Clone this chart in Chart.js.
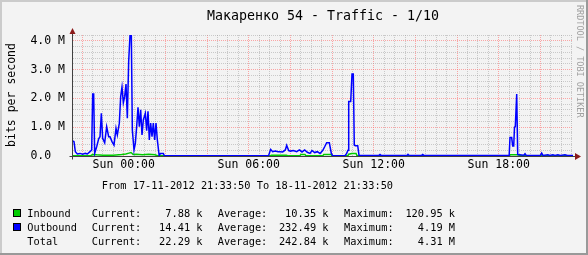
<!DOCTYPE html>
<html>
<head>
<meta charset="utf-8">
<script src="https://cdn.jsdelivr.net/npm/chart.js@4"></script>
<style>
html, body { margin: 0; padding: 0; background: #f3f3f3; }
canvas { display: block; }
</style>
</head>
<body>
<canvas id="trafficChart" width="588" height="255"></canvas>
<script>
const title = 'Макаренко 54 - Traffic - 1/10';
const unitLabel = 'bits per second';
const periodText = 'From 17-11-2012 21:33:50 To 18-11-2012 21:33:50';
const watermark = 'RRDTOOL / TOBI OETIKER';

// time in hours relative to Sun 00:00, values in Mbit/s
const startHour = -2.4361; // 21:33:50
const endHour = 21.5639;
const labelHours = [0, 6, 12, 18];
const tickLabels = ['Sun 00:00', 'Sun 06:00', 'Sun 12:00', 'Sun 18:00'];

const outHours = [-2.436, -2.388, -2.324, -2.228, -2.10, -1.972, -1.844, -1.748, -1.62, -1.54,
    -1.492, -1.444, -1.396, -1.30, -1.204, -1.14, -1.076, -1.012, -0.916, -0.82,
    -0.724, -0.66, -0.564, -0.468, -0.372, -0.308, -0.212, -0.148, -0.084, -0.02,
    0.044, 0.108, 0.172, 0.236, 0.30, 0.364, 0.412, 0.492, 0.556, 0.62,
    0.684, 0.748, 0.812, 0.876, 0.94, 1.036, 1.10, 1.164, 1.228, 1.292,
    1.356, 1.42, 1.484, 1.548, 1.612, 1.70, 1.76, 1.90, 1.95, 6.95,
    7.052, 7.148, 7.276, 7.404, 7.50, 7.628, 7.756, 7.82, 7.916, 8.0,
    8.14, 8.30, 8.43, 8.556, 8.684, 8.812, 8.94, 9.036, 9.164, 9.292,
    9.42, 9.548, 9.644, 9.74, 9.868, 9.964, 10.028, 10.62, 10.70, 10.764,
    10.798, 10.894, 10.956, 11.018, 11.066, 11.114, 11.23, 11.292, 12.25, 12.3,
    12.35, 13.6, 13.644, 13.7, 14.3, 14.35, 14.4, 18.40, 18.50, 18.54,
    18.62, 18.67, 18.718, 18.756, 18.794, 18.862, 18.91, 19.2, 19.26, 19.32,
    20.0, 20.06, 20.12, 20.36, 20.45, 20.6, 20.7, 20.84, 20.95, 21.18,
    21.3, 21.564];
const outValues = [0.52, 0.50, 0.15, 0.07, 0.09, 0.06, 0.09, 0.07, 0.15, 0.21,
    2.15, 2.15, 0.09, 0.32, 0.60, 0.67, 1.48, 0.61, 0.46, 1.02,
    0.67, 0.67, 0.50, 0.38, 0.96, 0.73, 1.14, 2.06, 2.39, 1.85,
    2.06, 2.50, 1.31, 3.28, 4.19, 4.19, 0.90, 0.21, 0.44, 1.02,
    1.69, 1.02, 1.60, 0.73, 1.25, 1.48, 0.88, 1.55, 0.56, 1.14,
    0.67, 1.14, 0.56, 1.14, 0.56, 0.01, 0.09, 0.09, 0.01, 0.01,
    0.23, 0.15, 0.17, 0.15, 0.15, 0.14, 0.21, 0.37, 0.19, 0.17,
    0.19, 0.15, 0.21, 0.14, 0.21, 0.13, 0.09, 0.19, 0.12, 0.15,
    0.09, 0.19, 0.32, 0.46, 0.46, 0.09, 0.01, 0.01, 0.09, 0.20,
    1.89, 1.89, 2.85, 2.85, 0.38, 0.36, 0.36, 0.03, 0.02, 0.05,
    0.02, 0.02, 0.06, 0.02, 0.02, 0.05, 0.02, 0.02, 0.02, 0.64,
    0.64, 0.35, 0.35, 1.00, 1.02, 2.15, 0.05, 0.03, 0.08, 0.02,
    0.02, 0.10, 0.02, 0.04, 0.02, 0.04, 0.02, 0.04, 0.02, 0.04,
    0.02, 0.02];

const inHours = [-2.436, -1.6, -1.5, -1.3, -1.0, -0.5, -0.1, 0.1, 0.25, 0.35,
    0.45, 0.6, 0.9, 1.2, 1.5, 1.65, 7.0, 7.1, 7.8, 7.9,
    8.45, 8.5, 8.7, 8.75, 9.55, 9.6, 9.95, 10.0, 10.75, 10.8,
    10.95, 11.15, 11.2, 18.5, 18.55, 18.95, 19.0, 21.564];
const inValues = [0.005, 0.005, 0.05, 0.04, 0.03, 0.03, 0.05, 0.07, 0.10, 0.12,
    0.05, 0.06, 0.04, 0.06, 0.04, 0.005, 0.005, 0.03, 0.03, 0.005,
    0.005, 0.05, 0.05, 0.005, 0.005, 0.05, 0.05, 0.005, 0.005, 0.06,
    0.09, 0.09, 0.005, 0.005, 0.04, 0.04, 0.005, 0.005];

const legendNames = ['Inbound', 'Outbound', 'Total'];
const legendColors = ['#00cc00', '#0000ff', null];
const currentValues = ['7.88 k', '14.41 k', '22.29 k'];
const averageValues = ['10.35 k', '232.49 k', '242.84 k'];
const maximumValues = ['120.95 k', '4.19 M', '4.31 M'];

const MONO = 'DejaVu Sans Mono';
const RED_GRID = 'rgba(255, 100, 100, 0.55)';
const GRAY_GRID = 'rgba(150, 150, 150, 0.45)';

function isMultiple(v, step) {
    const r = v / step;
    return Math.abs(r - Math.round(r)) < 1e-6;
}

const rrdPlugin = {
    id: 'rrdDecor',
    beforeDraw(chart) {
        const ctx = chart.ctx;
        const w = chart.width, h = chart.height;
        ctx.save();
        ctx.fillStyle = '#f3f3f3';
        ctx.fillRect(0, 0, w, h);
        // shaded frame
        ctx.fillStyle = '#cbcbcb';
        ctx.fillRect(0, 0, w, 2);
        ctx.fillRect(0, 0, 2, h);
        ctx.fillStyle = '#999999';
        ctx.fillRect(0, h - 2, w, 2);
        ctx.fillRect(w - 2, 0, 2, h);
        ctx.restore();
    },
    afterDatasetsDraw(chart) {
        const ctx = chart.ctx;
        const area = chart.chartArea;
        const y0 = Math.round(chart.scales.y.getPixelForValue(0)) + 0.5;
        const x0 = area.left - 0.5;
        ctx.save();
        ctx.strokeStyle = '#404040';
        ctx.lineWidth = 1;
        ctx.beginPath();
        ctx.moveTo(x0, y0 + 3);
        ctx.lineTo(x0, area.top - 2);
        ctx.moveTo(x0 - 3, y0);
        ctx.lineTo(area.right + 3, y0);
        ctx.stroke();
        // arrows
        ctx.fillStyle = '#8b1a1a';
        ctx.beginPath();
        ctx.moveTo(x0 - 3, area.top - 1);
        ctx.lineTo(x0 + 3, area.top - 1);
        ctx.lineTo(x0, area.top - 7);
        ctx.closePath();
        ctx.fill();
        ctx.beginPath();
        ctx.moveTo(area.right + 2, y0 - 3.5);
        ctx.lineTo(area.right + 2, y0 + 3.5);
        ctx.lineTo(area.right + 8, y0);
        ctx.closePath();
        ctx.fill();
        ctx.restore();
    },
    afterDraw(chart) {
        const ctx = chart.ctx;
        const area = chart.chartArea;
        ctx.save();
        ctx.fillStyle = '#000';
        ctx.textBaseline = 'alphabetic';

        ctx.font = '13.3px "' + MONO + '"';
        ctx.textAlign = 'center';
        ctx.fillText(title, (area.left + area.right) / 2, 19.5);

        ctx.save();
        ctx.translate(15.3, 95);
        ctx.rotate(-Math.PI / 2);
        ctx.font = '11.5px "' + MONO + '"';
        ctx.textAlign = 'center';
        ctx.fillText(unitLabel, 0, 0);
        ctx.restore();

        ctx.save();
        ctx.translate(579.5, 5);
        ctx.rotate(Math.PI / 2);
        ctx.font = '8.5px "' + MONO + '"';
        ctx.fillStyle = '#a0a0a0';
        ctx.textAlign = 'left';
        ctx.textBaseline = 'middle';
        ctx.fillText(watermark, 0, 0);
        ctx.restore();

        ctx.font = '10.3px "' + MONO + '"';
        ctx.textAlign = 'left';
        ctx.fillText(periodText, 101.7, 188.5);

        const rows = [217, 231, 245];
        legendNames.forEach((name, i) => {
            const yb = rows[i];
            if (legendColors[i]) {
                ctx.fillStyle = legendColors[i];
                ctx.fillRect(13.5, yb - 7.5, 7, 7);
                ctx.strokeStyle = '#000';
                ctx.lineWidth = 1;
                ctx.strokeRect(13.5, yb - 7.5, 7, 7);
            }
            ctx.fillStyle = '#000';
            ctx.textAlign = 'left';
            ctx.fillText(name, 27.3, yb);
            ctx.fillText('Current:', 91.7, yb);
            ctx.fillText('Average:', 217.7, yb);
            ctx.fillText('Maximum:', 344, yb);
            ctx.textAlign = 'right';
            ctx.fillText(currentValues[i], 202.5, yb);
            ctx.fillText(averageValues[i], 328.5, yb);
            ctx.fillText(maximumValues[i], 455, yb);
        });
        ctx.restore();
    }
};

Chart.defaults.font.family = MONO;
Chart.defaults.color = '#000';

const ctx = document.getElementById('trafficChart').getContext('2d');
const trafficChart = new Chart(ctx, {
    type: 'line',
    data: {
        datasets: [{
            label: 'Outbound',
            data: outHours.map((h, i) => ({ x: h, y: outValues[i] })),
            borderColor: '#0000ff',
            borderWidth: 1.5,
            pointRadius: 0,
            tension: 0,
            fill: false,
            order: 0
        }, {
            label: 'Inbound',
            data: inHours.map((h, i) => ({ x: h, y: inValues[i] })),
            borderColor: '#00cc00',
            borderWidth: 1.5,
            pointRadius: 0,
            tension: 0,
            fill: false,
            order: 1
        }]
    },
    options: {
        responsive: false,
        animation: false,
        devicePixelRatio: 1,
        layout: { padding: { left: 0, top: 35, right: 15, bottom: 0 } },
        plugins: {
            legend: { display: false },
            title: { display: false },
            tooltip: { enabled: false }
        },
        scales: {
            x: {
                type: 'linear',
                min: startHour,
                max: endHour,
                afterBuildTicks: scale => {
                    const ticks = [];
                    for (let h = Math.ceil(startHour * 2) / 2; h <= endHour; h += 0.5) {
                        ticks.push({ value: h });
                    }
                    scale.ticks = ticks;
                },
                afterFit: scale => { scale.height = 99; },
                ticks: {
                    autoSkip: false,
                    maxRotation: 0,
                    padding: 2,
                    font: { size: 11.5 },
                    callback: value => {
                        const i = labelHours.findIndex(h => Math.abs(h - value) < 1e-6);
                        return i >= 0 ? tickLabels[i] : '';
                    }
                },
                grid: {
                    drawTicks: false,
                    color: c => (c.tick && isMultiple(c.tick.value, 2)) ? RED_GRID : GRAY_GRID,
                    lineWidth: 1
                },
                border: { display: false, dash: [1, 1] }
            },
            y: {
                min: 0,
                max: 4.2,
                afterFit: scale => { scale.width = 73; },
                ticks: {
                    stepSize: 0.2,
                    autoSkip: false,
                    padding: 8,
                    font: { size: 11.5 },
                    callback: value => {
                        if (!isMultiple(value, 1)) return '';
                        return value === 0 ? '0.0  ' : value.toFixed(1) + ' M';
                    }
                },
                grid: {
                    drawTicks: false,
                    color: c => (c.tick && isMultiple(c.tick.value, 1)) ? RED_GRID : GRAY_GRID,
                    lineWidth: 1
                },
                border: { display: false, dash: [1, 1] }
            }
        }
    },
    plugins: [rrdPlugin]
});
</script>
</body>
</html>
